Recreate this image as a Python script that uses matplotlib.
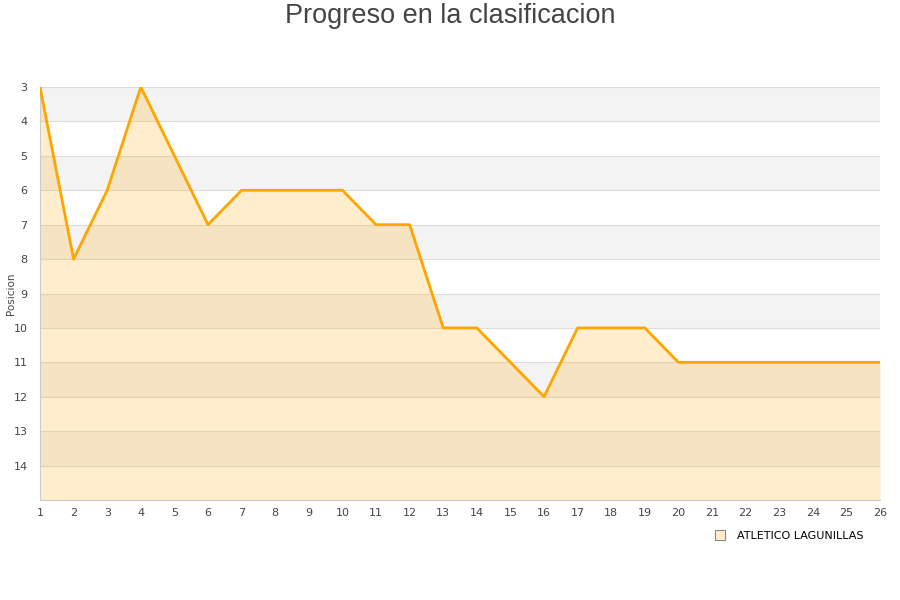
import numpy as np
import matplotlib.pyplot as plt

# jornadas y posicion
jornadas = list(range(1, 27))
posicion = [3, 8, 6, 3, 5, 7, 6, 6, 6, 6, 7, 7, 10, 10, 11, 12, 10, 10, 10, 11,
            11, 11, 11, 11, 11, 11]
equipo = 'ATLETICO LAGUNILLAS'
titulo = 'Progreso en la clasificacion'

fig = plt.figure(figsize=(9, 6), dpi=100)
ax = fig.add_axes([40/900, 100/600, 840/900, 413/600])

ymin, ymax = 3, 15
# bandas alternas
for k in range(ymin, ymax, 2):
    ax.axhspan(k, k + 1, color='#f3f3f3', zorder=0, lw=0)
for k in range(ymin, ymax + 1):
    ax.axhline(k, color='#dddddd', lw=0.8, zorder=1)

ax.fill_between(jornadas, posicion, ymax, color='#ffa500', alpha=0.2, lw=0, zorder=2)
ax.plot(jornadas, posicion, color='#ffa500', lw=2, zorder=3)

ax.set_xlim(1, 26)
ax.set_ylim(ymax, ymin)
ax.set_xticks(jornadas)
ax.set_yticks(range(3, 15))
ax.tick_params(axis='both', length=0, labelsize=8, colors='#444444')
ax.tick_params(axis='x', pad=6)
ax.tick_params(axis='y', pad=9)
for s in ['top', 'right']:
    ax.spines[s].set_visible(False)
ax.spines['left'].set_color('#cccccc')
ax.spines['bottom'].set_color('#cccccc')
ax.set_ylabel('Posicion', fontsize=7.5, color='#444444')
ax.yaxis.set_label_coords(-24/840, 0.5)

fig.text(0.5, 1 - 16/600, titulo, fontsize=19.5, color='#444444', ha='center', va='center',
         family='Liberation Sans')

h = plt.Line2D([], [], marker='s', ls='none', markersize=7,
               markerfacecolor='#ffedcc', markeredgecolor='#888888', markeredgewidth=0.8)
fig.legend([h], [equipo], loc='center right', bbox_to_anchor=(873/900, 1 - 536/600),
           frameon=False, fontsize=8, handletextpad=0.5)

fig.savefig('out.png')
